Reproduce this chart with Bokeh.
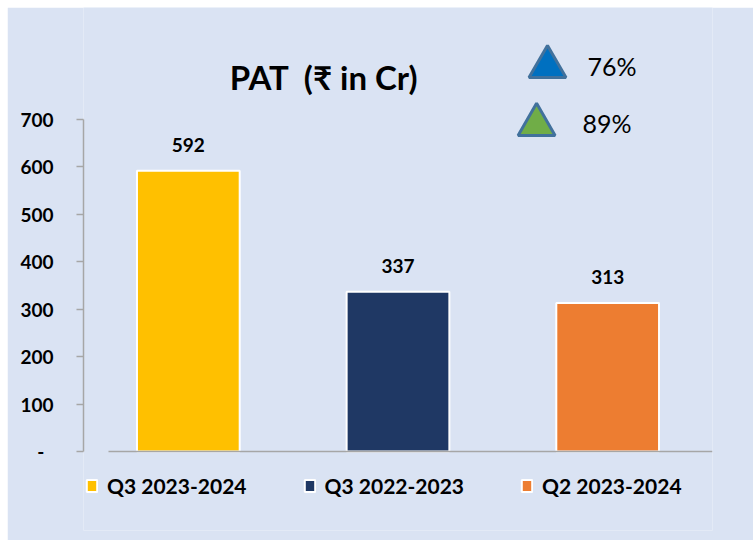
from bokeh.plotting import figure
from bokeh.layouts import column, row
from bokeh.models import (ColumnDataSource, FixedTicker, Legend, LegendItem, Range1d,
                          Spacer)
from bokeh.core.properties import value
from bokeh.embed import file_html
from bokeh.resources import INLINE

# ---- data ----
categories = ["Q3 2023-2024", "Q3 2022-2023", "Q2 2023-2024"]
pat_values = [592, 337, 313]
bar_colors = ["#FFC000", "#1F3864", "#ED7D31"]
y_ticks = [0, 100, 200, 300, 400, 500, 600, 700]
growth_labels = ["76%", "89%"]
growth_colors = ["#0070C0", "#70AD47"]
title_text = "PAT\u00a0\u00a0(\u20b9 in Cr)"

BG = "#DAE3F3"
FONT = "Lato"
GREY = "#A6A6A6"

p = figure(width=746, height=533, x_range=categories, y_range=Range1d(-166.6, 936.1),
           output_backend="svg", toolbar_location=None,
           min_border_left=76, min_border_right=41, min_border_top=0, min_border_bottom=10)
p.background_fill_color = BG
p.border_fill_color = BG
p.outline_line_color = None
p.grid.visible = False

src = ColumnDataSource(dict(cat=categories, val=pat_values, color=bar_colors,
                            label=[str(v) for v in pat_values]))
bars = p.vbar(x="cat", top="val", width=0.49, fill_color="color", line_color="white",
              line_width=2, source=src)
p.text(x="cat", y="val", text="label", source=src, text_align="center",
       text_baseline="alphabetic", y_offset=-26, text_font=value(FONT),
       text_font_style="bold", text_font_size="19px", text_color="black")

# y axis
ya = p.yaxis[0]
ya.ticker = FixedTicker(ticks=y_ticks)
ya.bounds = (0, 700)
ya.major_label_overrides = {0: "-\u00a0\u00a0"}
ya.axis_line_color = GREY
ya.axis_line_width = 1.5
ya.major_tick_line_color = GREY
ya.major_tick_line_width = 1.5
ya.major_tick_in = 0
ya.major_tick_out = 7
ya.minor_tick_line_color = None
ya.major_label_standoff = 23
ya.major_label_text_font = FONT
ya.major_label_text_font_style = "bold"
ya.major_label_text_font_size = "19px"
ya.major_label_text_color = "black"

# x axis (baseline only, at value 0)
xa = p.xaxis[0]
xa.fixed_location = 0
xa.bounds = (0.119, 3.067)
xa.axis_line_color = GREY
xa.axis_line_width = 1.5
xa.major_tick_line_color = None
xa.major_tick_out = 0
xa.major_tick_in = 0
xa.minor_tick_line_color = None
xa.major_label_standoff = 0
xa.major_label_text_font_size = "0px"
xa.major_label_text_color = None

# title
p.text(x=[(categories[1], -0.355)], y=[790], text=[title_text], text_align="center",
       text_baseline="alphabetic", text_font=value(FONT), text_font_style="bold",
       text_font_size="33px", text_color="black")

# growth indicators
gsrc = ColumnDataSource(dict(
    tx=[(categories[2], -0.287), (categories[2], -0.339)],
    ty=[811, 689],
    lx=[(categories[2], -0.096), (categories[2], -0.120)],
    ly=[813, 693],
    color=growth_colors,
    label=growth_labels,
))
p.scatter(x="tx", y="ty", marker="triangle", size=37, fill_color="color",
          line_color="#41719C", line_width=3, source=gsrc)
p.text(x="lx", y="ly", text="label", source=gsrc, text_align="left",
       text_baseline="alphabetic", text_font=value(FONT), text_font_size="25px",
       text_color="black")

legend = Legend(items=[LegendItem(label=c, renderers=[bars], index=i)
                       for i, c in enumerate(categories)],
                location=(2, 32), orientation="horizontal")
legend.glyph_width = 13
legend.glyph_height = 15
legend.label_standoff = 9
legend.spacing = 56
legend.padding = 0
legend.margin = 0
legend.border_line_color = None
legend.background_fill_alpha = 0
legend.label_text_font = FONT
legend.label_text_font_style = "bold"
legend.label_text_font_size = "21px"
legend.label_text_color = "black"
p.add_layout(legend, "center")

layout = column(Spacer(height=7, width=753), row(Spacer(width=7, height=533), p))
open("out.html", "w").write(file_html(layout, INLINE))
